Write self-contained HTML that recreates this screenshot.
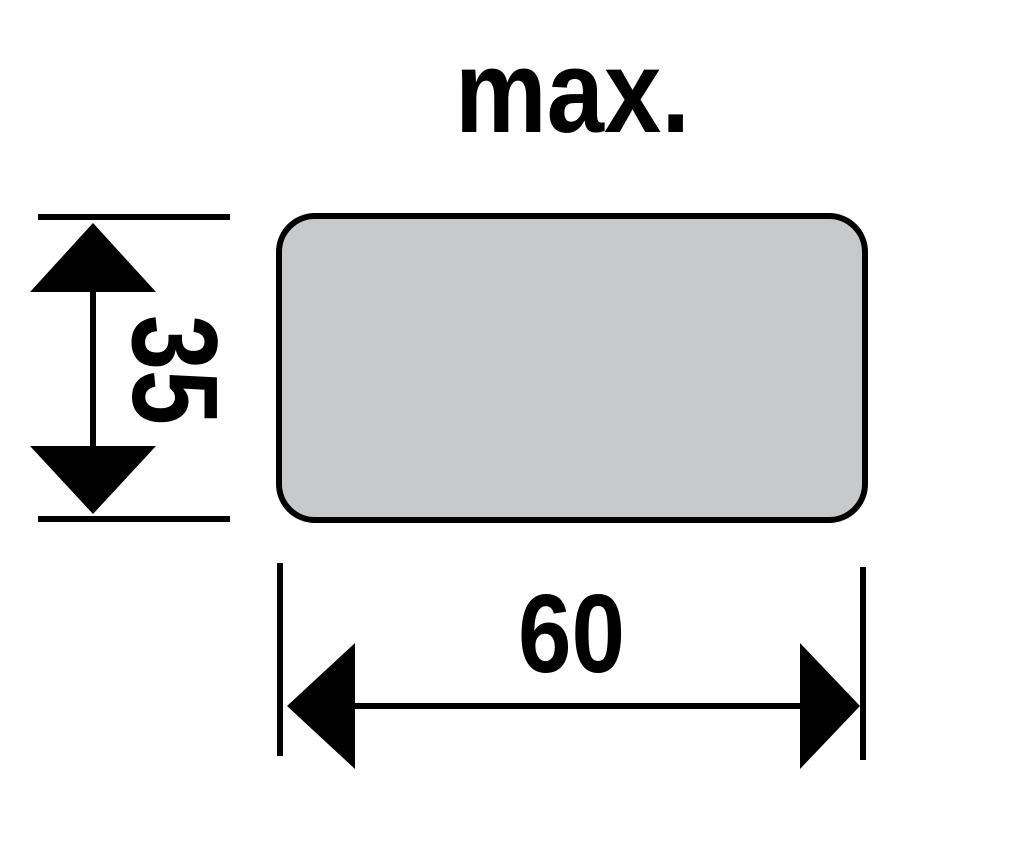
<!DOCTYPE html>
<html><head><meta charset="utf-8"><style>html,body{margin:0;padding:0;background:#fff}svg{display:block}</style></head>
<body>
<svg width="1016" height="846" viewBox="0 0 1016 846" xmlns="http://www.w3.org/2000/svg">
<rect width="1016" height="846" fill="#fff"/>
<text x="455" y="132" font-family="Liberation Sans, sans-serif" font-weight="bold" font-size="118" textLength="235" lengthAdjust="spacingAndGlyphs" fill="#000">max.</text>
<rect x="279" y="216" width="586" height="304" rx="36" ry="36" fill="#c8c9cb" stroke="#000" stroke-width="6"/>
<g stroke="#000" stroke-width="6">
<line x1="38" y1="217" x2="230" y2="217"/>
<line x1="38" y1="519" x2="230" y2="519"/>
<line x1="93" y1="280" x2="93" y2="460"/>
<line x1="280" y1="563" x2="280" y2="756"/>
<line x1="863" y1="567" x2="863" y2="760"/>
<line x1="340" y1="706" x2="810" y2="706"/>
</g>
<polygon points="93,223 30,292 156,292" fill="#000"/>
<polygon points="93,514 30,446 156,446" fill="#000"/>
<polygon points="287,706 355,643 355,769" fill="#000"/>
<polygon points="860,706 800,643 800,769" fill="#000"/>
<text transform="translate(133,315) rotate(90)" x="0" y="0" font-family="Liberation Sans, sans-serif" font-weight="bold" font-size="122" textLength="110" lengthAdjust="spacingAndGlyphs" fill="#000">35</text>
<text x="518" y="672" font-family="Liberation Sans, sans-serif" font-weight="bold" font-size="111" textLength="107" lengthAdjust="spacingAndGlyphs" fill="#000">60</text>
</svg>
</body></html>
